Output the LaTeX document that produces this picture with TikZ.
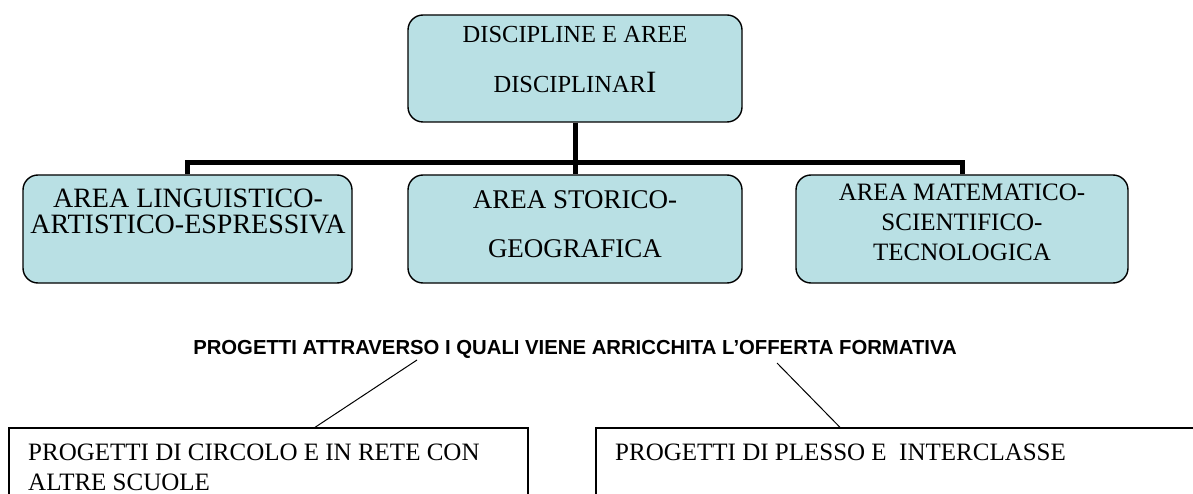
\documentclass[tikz,border=0pt]{standalone}
\usepackage{fontspec}
\setmainfont{Liberation Serif}
\newfontfamily\titlefont{Liberation Sans}
\usetikzlibrary{calc}
\definecolor{boxfill}{RGB}{185,224,228}
\tikzset{
  areabox/.style={draw=black, line width=1.4pt, fill=boxfill, rounded corners=15pt, inner sep=0pt},
  projbox/.style={draw=black, line width=1.3pt, fill=white, inner sep=0pt},
  txt/.style={inner sep=0pt, align=center},
  conn/.style={line width=5pt},
  thin/.style={line width=1pt}
}
\begin{document}
\begin{tikzpicture}[x=1pt,y=-1pt]
\useasboundingbox[fill=white] (0,0) rectangle (1193,494);
% area boxes
\node[areabox, minimum width=334pt, minimum height=107pt] (top) at (575,68.5) {};
\node[areabox, minimum width=329pt, minimum height=108pt] (left) at (187.5,229) {};
\node[areabox, minimum width=334pt, minimum height=108pt] (mid) at (575,229) {};
\node[areabox, minimum width=332pt, minimum height=108pt] (right) at (962,229) {};
% connectors
\draw[conn] (top.south) -- (mid.north);
\draw[conn] (left.north) -- ++(0,-12) -| (right.north);
% texts in area boxes
\node[txt, anchor=north, font={\fontsize{24.5}{50}\selectfont}] (toptxt) at (575,25.8)
  {DISCIPLINE E AREE\\DISCIPLINAR{\fontsize{31}{31}\selectfont I}};
\node[txt, anchor=north, font={\fontsize{28}{26}\selectfont}] (lefttxt) at (188,188.5)
  {AREA LINGUISTICO-\\ARTISTICO-ESPRESSIVA};
\node[txt, anchor=north, font={\fontsize{27}{49}\selectfont}] (midtxt) at (575,190)
  {AREA STORICO-\\GEOGRAFICA};
\node[txt, anchor=north, font={\fontsize{25}{30}\selectfont}] (righttxt) at (962,183.5)
  {AREA MATEMATICO-\\SCIENTIFICO-\\TECNOLOGICA};
% title
\node[inner sep=0pt, anchor=base, font={\titlefont\bfseries\fontsize{20.3}{24}\selectfont}] (title) at (575,354)
  {PROGETTI ATTRAVERSO I QUALI VIENE ARRICCHITA L’OFFERTA FORMATIVA};
% project boxes
\node[projbox, minimum width=519pt, minimum height=140pt] (pc) at (268.5,498) {};
\node[projbox, minimum width=660pt, minimum height=140pt] (pp) at (926,498) {};
\node[inner sep=0pt, anchor=north west, align=left, font={\fontsize{25}{30}\selectfont}] (pctxt) at (28,443.5)
  {PROGETTI DI CIRCOLO E IN RETE CON\\ALTRE SCUOLE};
\node[inner sep=0pt, anchor=base west, font={\fontsize{25}{30}\selectfont}] (pptxt) at (615,460)
  {PROGETTI DI PLESSO E\ \ INTERCLASSE};
% thin connectors
\coordinate (t1) at (417,360);
\coordinate (t2) at (777,363);
\draw[thin] (t1) -- ([xshift=46.5pt]pc.north);
\draw[thin] (t2) -- ([xshift=-86pt]pp.north);
\end{tikzpicture}
\end{document}
